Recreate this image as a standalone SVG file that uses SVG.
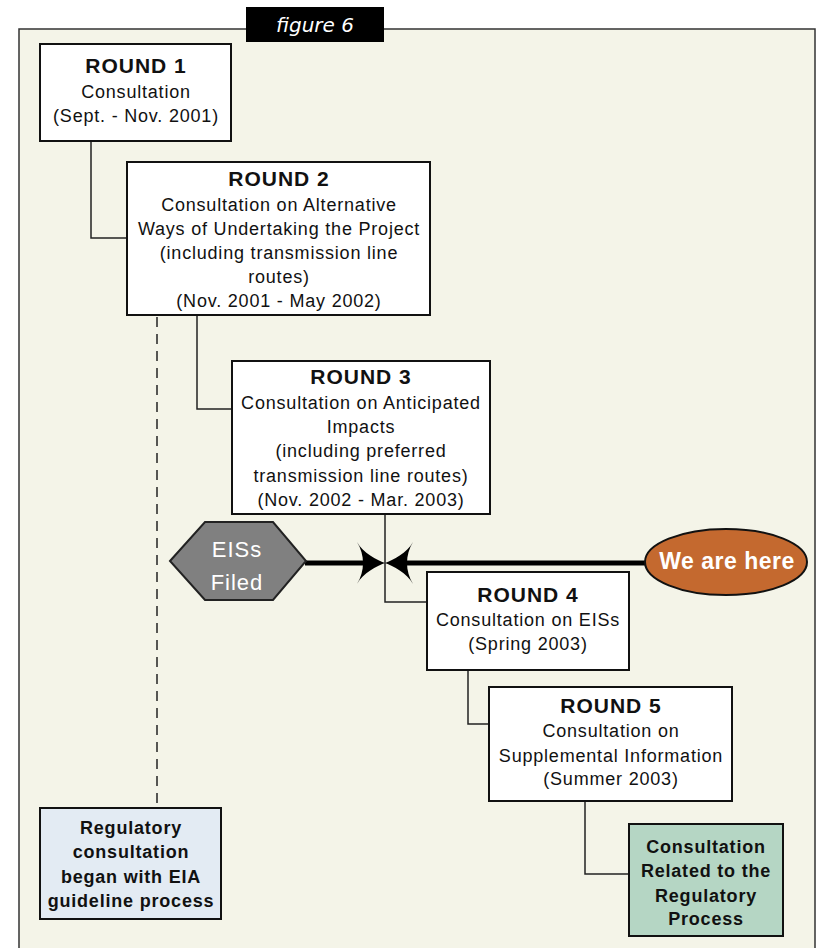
<svg xmlns="http://www.w3.org/2000/svg" width="817" height="948" viewBox="0 0 817 948">
<defs>
<style>
.box{fill:#ffffff;stroke:#111;stroke-width:2}
.t{font-family:"Liberation Sans",Arial,sans-serif;font-size:18px;letter-spacing:0.8px;fill:#111;text-anchor:middle}
.h{font-family:"Liberation Sans",Arial,sans-serif;font-size:21px;font-weight:bold;letter-spacing:1px;fill:#111;text-anchor:middle}
.b{font-family:"Liberation Sans",Arial,sans-serif;font-size:18px;font-weight:bold;letter-spacing:0.8px;fill:#111;text-anchor:middle}
.conn{fill:none;stroke:#222;stroke-width:1.5}
.thick{fill:none;stroke:#000;stroke-width:5}
</style>
<marker id="stealth" viewBox="0 0 28 42" refX="8" refY="21" markerWidth="28" markerHeight="42" markerUnits="userSpaceOnUse" orient="auto">
<path d="M28,21 C20,18 6,11 0,0 C8,13 8,29 0,42 C6,31 20,24 28,21 Z" fill="#000"/>
</marker>
</defs>
<rect x="0" y="0" width="817" height="948" fill="#ffffff"/>
<rect x="19" y="29" width="796" height="930" fill="#f4f4e8" stroke="#333" stroke-width="1.5"/>
<g id="figure-label">
<rect x="246" y="7" width="138" height="35" fill="#000"/>
<text x="315" y="32" font-family="DejaVu Sans,sans-serif" font-size="20" font-style="italic" fill="#fff" text-anchor="middle">figure 6</text>
</g>
<g id="connectors">
<polyline class="conn" points="91,142 91,238 127,238"/>
<polyline class="conn" points="197,316 197,409 232,409"/>
<line class="conn" x1="157" y1="317" x2="157" y2="808" stroke-dasharray="10 7"/>
<polyline class="conn" points="385,514 385,602 427,602"/>
<polyline class="conn" points="468,670 468,724 489,724"/>
<polyline class="conn" points="585,801 585,874 629,874"/>
<line class="thick" x1="305" y1="563" x2="365" y2="563" marker-end="url(#stealth)"/>
<line class="thick" x1="646" y1="563" x2="405" y2="563" marker-end="url(#stealth)"/>
</g>
<g id="round1">
<rect class="box" x="40" y="44" width="191" height="97"/>
<text class="h" x="136" y="73">ROUND 1</text>
<text class="t" x="136" y="98">Consultation</text>
<text class="t" x="136" y="122">(Sept. - Nov. 2001)</text>
</g>
<g id="round2">
<rect class="box" x="127" y="162" width="303" height="153"/>
<text class="h" x="279" y="186">ROUND 2</text>
<text class="t" x="279" y="211">Consultation on Alternative</text>
<text class="t" x="279" y="235">Ways of Undertaking the Project</text>
<text class="t" x="279" y="259">(including transmission line</text>
<text class="t" x="279" y="283">routes)</text>
<text class="t" x="279" y="307">(Nov. 2001 - May 2002)</text>
</g>
<g id="round3">
<rect class="box" x="232" y="361" width="258" height="153"/>
<text class="h" x="361" y="384">ROUND 3</text>
<text class="t" x="361" y="409">Consultation on Anticipated</text>
<text class="t" x="361" y="433">Impacts</text>
<text class="t" x="361" y="457">(including preferred</text>
<text class="t" x="361" y="482">transmission line routes)</text>
<text class="t" x="361" y="506">(Nov. 2002 - Mar. 2003)</text>
</g>
<g id="round4">
<rect class="box" x="427" y="572" width="202" height="98"/>
<text class="h" x="528" y="602">ROUND 4</text>
<text class="t" x="528" y="626">Consultation on EISs</text>
<text class="t" x="528" y="650">(Spring 2003)</text>
</g>
<g id="round5">
<rect class="box" x="489" y="687" width="243" height="114"/>
<text class="h" x="611" y="713">ROUND 5</text>
<text class="t" x="611" y="737">Consultation on</text>
<text class="t" x="611" y="762">Supplemental Information</text>
<text class="t" x="611" y="785">(Summer 2003)</text>
</g>
<g id="eiss-filed">
<polygon points="170,561 205,522 273,522 306,561 273,600 205,600" fill="#808080" stroke="#222" stroke-width="2"/>
<text x="237" y="557" font-family="Liberation Sans,Arial,sans-serif" font-size="22" letter-spacing="1" fill="#fff" text-anchor="middle">EISs</text>
<text x="237" y="590" font-family="Liberation Sans,Arial,sans-serif" font-size="22" letter-spacing="1" fill="#fff" text-anchor="middle">Filed</text>
</g>
<g id="we-are-here">
<ellipse cx="726" cy="562" rx="81" ry="33" fill="#c4692f" stroke="#111" stroke-width="2"/>
<text x="727" y="569" font-family="Liberation Sans,Arial,sans-serif" font-size="23" font-weight="bold" letter-spacing="0.5" fill="#fff" text-anchor="middle">We are here</text>
</g>
<g id="regulatory-consultation">
<rect x="40" y="808" width="181" height="111" fill="#e3ebf3" stroke="#111" stroke-width="2"/>
<text class="b" x="131" y="834">Regulatory</text>
<text class="b" x="131" y="858">consultation</text>
<text class="b" x="131" y="883">began with EIA</text>
<text class="b" x="131" y="907">guideline process</text>
</g>
<g id="regulatory-process">
<rect x="629" y="824" width="154" height="112" fill="#b5d6c4" stroke="#111" stroke-width="2"/>
<text class="b" x="706" y="853">Consultation</text>
<text class="b" x="706" y="877">Related to the</text>
<text class="b" x="706" y="902">Regulatory</text>
<text class="b" x="706" y="925">Process</text>
</g>
</svg>
